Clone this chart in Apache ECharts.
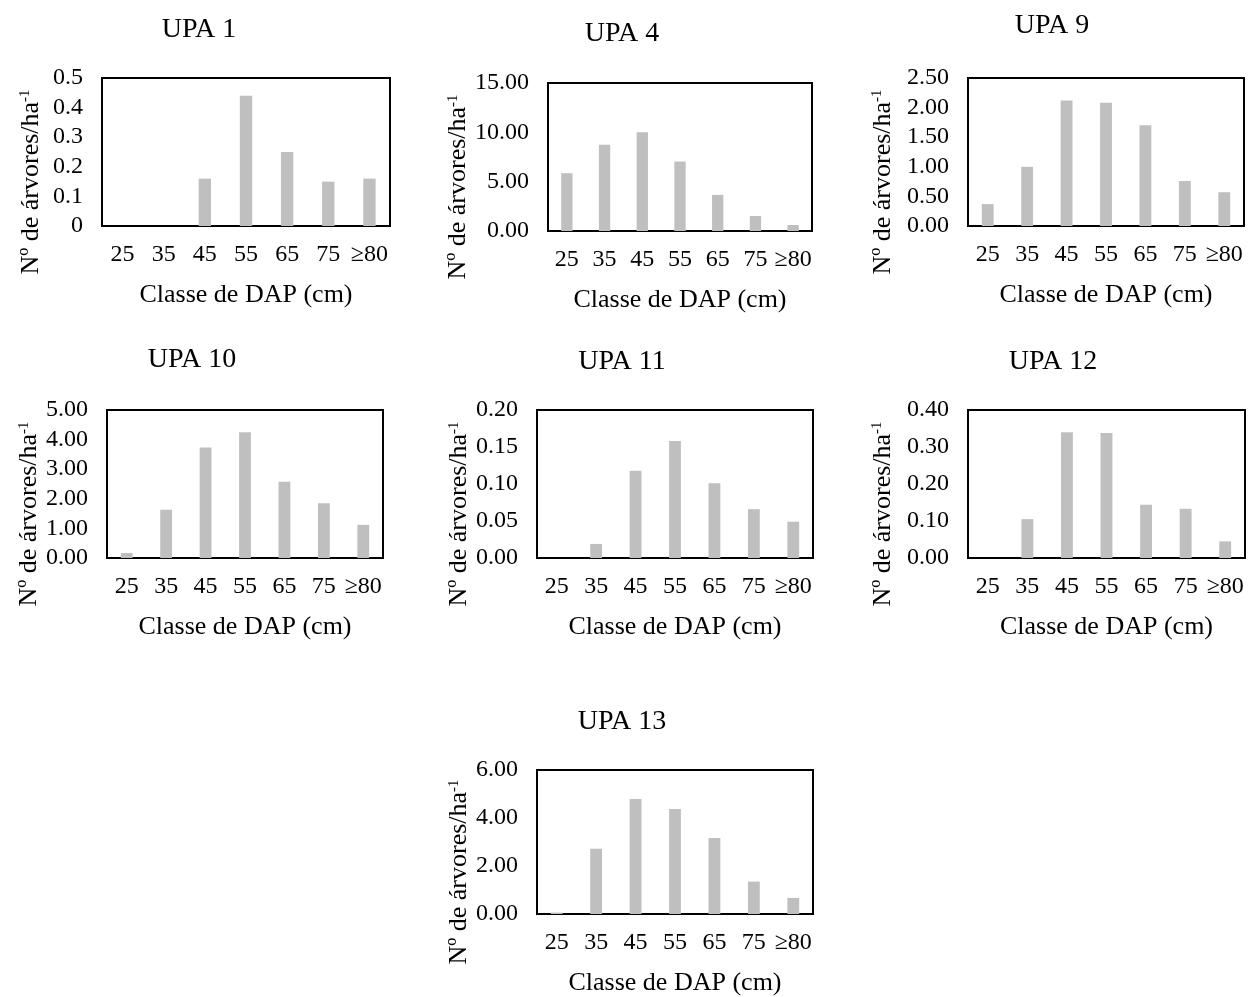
<!DOCTYPE html>
<html>
<head>
<meta charset="utf-8">
<script src="https://cdn.jsdelivr.net/npm/echarts@6/dist/echarts.min.js"></script>
<style>
html,body{margin:0;padding:0;background:#fff;}
#chart{width:1248px;height:997px;}
</style>
</head>
<body>
<div id="chart"></div>
<script>
// ---- data ----
var categories = ['25', '35', '45', '55', '65', '75', '≥80'];
var titles = ['UPA 1', 'UPA 4', 'UPA 9', 'UPA 10', 'UPA 11', 'UPA 12', 'UPA 13'];
var upa1  = [0, 0, 0.16, 0.44, 0.25, 0.15, 0.16];
var upa4  = [5.86, 8.73, 10.02, 7.04, 3.66, 1.52, 0.61];
var upa9  = [0.37, 1.00, 2.12, 2.08, 1.70, 0.76, 0.57];
var upa10 = [0.17, 1.63, 3.73, 4.25, 2.58, 1.85, 1.12];
var upa11 = [0, 0.019, 0.118, 0.158, 0.101, 0.066, 0.049];
var upa12 = [0, 0.105, 0.34, 0.338, 0.144, 0.133, 0.045];
var upa13 = [0.06, 2.72, 4.79, 4.38, 3.17, 1.35, 0.67];
var yMax      = [0.5, 15, 2.5, 5, 0.2, 0.4, 6];
var yInterval = [0.1, 5, 0.5, 1, 0.05, 0.1, 2];
var yDecimals = [null, 2, 2, 2, 2, 2, 2];
var xAxisTitle = 'Classe de DAP (cm)';

// ---- layout ----
var seriesData = [upa1, upa4, upa9, upa10, upa11, upa12, upa13];
var grids = [
  {left: 102, top: 78,  width: 288, height: 148},
  {left: 548, top: 83,  width: 264, height: 148},
  {left: 968, top: 78,  width: 276, height: 148},
  {left: 107, top: 410, width: 276, height: 148},
  {left: 537, top: 410, width: 276, height: 148},
  {left: 968, top: 410, width: 277, height: 148},
  {left: 537, top: 770, width: 276, height: 148}
];
var titlePos = [[199, 30], [622, 34], [1052, 26], [192, 360], [622, 362], [1053, 362], [622, 722]];
var yNameGap = [58, 67, 72, 62, 64, 72, 64];

var FONT = '"Liberation Serif", "Times New Roman", serif';
var option = {
  backgroundColor: '#fff',
  animation: false,
  title: [], grid: [], xAxis: [], yAxis: [], series: []
};
for (var i = 0; i < 7; i++) {
  option.title.push({
    text: titles[i], left: titlePos[i][0], top: titlePos[i][1],
    textAlign: 'center', textVerticalAlign: 'middle', padding: 0,
    textStyle: {fontFamily: FONT, fontSize: 28, fontWeight: 'normal', color: '#000'}
  });
  option.grid.push({
    left: grids[i].left, top: grids[i].top, width: grids[i].width, height: grids[i].height,
    show: true, borderColor: '#000', borderWidth: 2, backgroundColor: '#fff', containLabel: false
  });
  option.xAxis.push({
    type: 'category', gridIndex: i, data: categories,
    axisLine: {show: false}, axisTick: {show: false},
    axisLabel: {interval: 0, margin: 17, fontFamily: FONT, fontSize: 24, color: '#000'},
    name: xAxisTitle, nameLocation: 'middle', nameGap: 56,
    nameTextStyle: {fontFamily: FONT, fontSize: 26, color: '#000'}
  });
  (function (dec) {
    option.yAxis.push({
      type: 'value', gridIndex: i, min: 0, max: yMax[i], interval: yInterval[i],
      axisLine: {show: false}, axisTick: {show: false}, splitLine: {show: false},
      axisLabel: {margin: 19, fontFamily: FONT, fontSize: 24, color: '#000',
        formatter: function (v) { return dec == null ? String(+v.toFixed(2)) : v.toFixed(dec); }},
      name: 'Nº de árvores/ha{sup|-1}', nameLocation: 'middle', nameGap: yNameGap[i],
      nameTextStyle: {fontFamily: FONT, fontSize: 26, color: '#000', padding: [0, 60, 0, 0],
        rich: {sup: {fontFamily: FONT, fontSize: 15, color: '#000', verticalAlign: 'top', padding: [0, 0, 10, 0]}}}
    });
  })(yDecimals[i]);
  option.series.push({
    type: 'bar', xAxisIndex: i, yAxisIndex: i, data: seriesData[i],
    barWidth: '30%', itemStyle: {color: '#BFBFBF'}, silent: true
  });
}
var chart = echarts.init(document.getElementById('chart'), null, {renderer: 'canvas'});
chart.setOption(option);
</script>
</body>
</html>
